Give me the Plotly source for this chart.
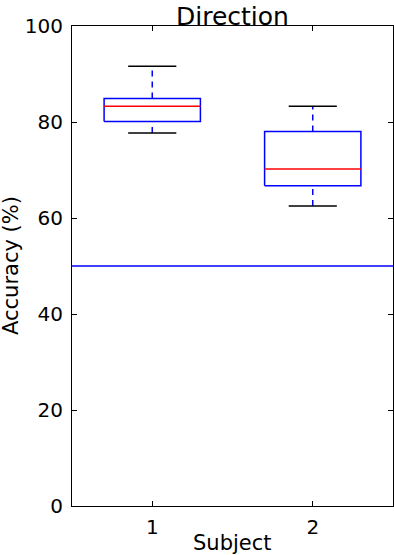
import plotly.graph_objects as go

subjects = [1, 2]
whisker_low = [77.7, 62.5]
q1 = [80.1, 66.7]
median = [83.3, 70.2]
q3 = [84.9, 78.0]
whisker_high = [91.6, 83.3]
chance = 50

box_w = 0.3   # half width of box
cap_w = 0.15  # half width of caps

fig = go.Figure()

for i, s in enumerate(subjects):
    # box outline
    fig.add_trace(go.Scatter(
        x=[s - box_w, s + box_w, s + box_w, s - box_w, s - box_w],
        y=[q1[i], q1[i], q3[i], q3[i], q1[i]],
        mode="lines", line=dict(color="#0000ff", width=1.5),
        hoverinfo="skip"))
    # median
    fig.add_trace(go.Scatter(
        x=[s - box_w, s + box_w], y=[median[i], median[i]],
        mode="lines", line=dict(color="#ff0000", width=1.5)))
    # whiskers
    fig.add_trace(go.Scatter(
        x=[s, s], y=[q3[i], whisker_high[i]],
        mode="lines", line=dict(color="#0000ff", width=1.5, dash="6px,5px")))
    fig.add_trace(go.Scatter(
        x=[s, s], y=[whisker_low[i], q1[i]],
        mode="lines", line=dict(color="#0000ff", width=1.5, dash="6px,5px")))
    # caps
    fig.add_trace(go.Scatter(
        x=[s - cap_w, s + cap_w], y=[whisker_high[i], whisker_high[i]],
        mode="lines", line=dict(color="black", width=1.5)))
    fig.add_trace(go.Scatter(
        x=[s - cap_w, s + cap_w], y=[whisker_low[i], whisker_low[i]],
        mode="lines", line=dict(color="black", width=1.5)))

# chance line
fig.add_trace(go.Scatter(
    x=[0.5, 2.5], y=[chance, chance],
    mode="lines", line=dict(color="#0000ff", width=1.5)))

fig.update_layout(
    width=394, height=555,
    margin=dict(l=72, r=1, t=26, b=49),
    paper_bgcolor="white", plot_bgcolor="white",
    showlegend=False,
    font=dict(family="DejaVu Sans", size=20, color="black"),
    title=dict(text="Direction", x=0.5, xanchor="center", xref="paper",
               y=1, yref="paper", yanchor="bottom", pad=dict(b=1),
               automargin=False, font=dict(size=25)),
    annotations=[
        dict(text="Subject", x=0.5, y=0, xref="paper", yref="paper",
             xanchor="center", yanchor="top", yshift=-23, showarrow=False,
             font=dict(size=21)),
        dict(text="Accuracy (%)", x=0, y=0.5, xref="paper", yref="paper",
             xanchor="center", yanchor="middle", xshift=-61, textangle=-90,
             showarrow=False, font=dict(size=21)),
    ],
)
fig.update_xaxes(
    range=[0.5, 2.5], tickvals=subjects, ticktext=["1", "2"],
    showgrid=False, zeroline=False, automargin=False,
    showline=True, linecolor="black", linewidth=1.2, mirror="ticks",
    ticks="inside", ticklen=5, tickcolor="black", ticklabelstandoff=3,
)
fig.update_yaxes(
    range=[0, 100], dtick=20, automargin=False,
    showgrid=False, zeroline=False,
    showline=True, linecolor="black", linewidth=1.2, mirror="ticks",
    ticks="inside", ticklen=5, tickcolor="black", ticklabelstandoff=4,
)

# page has a default 8px body margin; drop it so the figure sits at 0,0
fig.write_html("out.html", config={"displayModeBar": False},
               post_script="document.body.style.margin='0';")
